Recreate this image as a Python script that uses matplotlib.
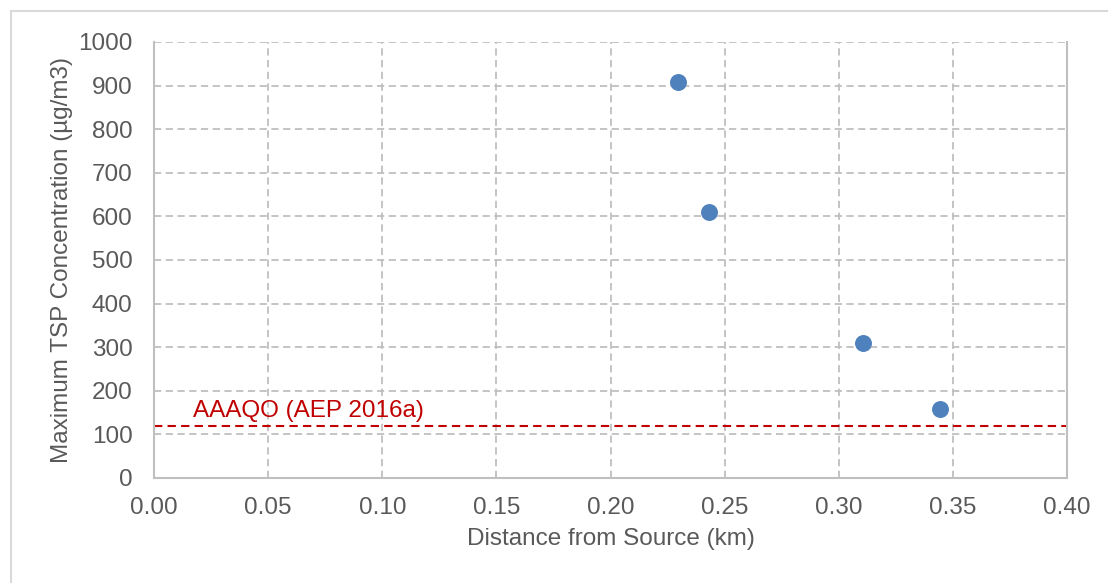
import matplotlib.pyplot as plt
from matplotlib.lines import Line2D

plt.rcParams.update({"font.family": ["Liberation Sans", "DejaVu Sans"], "font.size": 17.5})

distance_km = [0.2297, 0.2432, 0.3106, 0.3444]
max_tsp = [909, 609, 309, 159]
aaaqo_limit = 120
aaaqo_label = "AAAQO (AEP 2016a)"

TEXT = "#595959"
GRID = "#BFBFBF"

fig = plt.figure(figsize=(11.08, 5.83), dpi=100)
ax = fig.add_axes([154 / 1108, 1 - 478 / 583, (1067 - 154) / 1108, (478 - 42) / 583])

ax.set_xlim(0, 0.40)
ax.set_ylim(0, 1000)
ax.set_xticks([i * 0.05 for i in range(9)])
ax.set_yticks(range(0, 1001, 100))
ax.xaxis.set_major_formatter(plt.FormatStrFormatter("%.2f"))

ax.grid(True, color=GRID, linestyle=(0, (4, 2.5)), linewidth=1.3)
ax.set_axisbelow(True)
ax.tick_params(length=0, colors=TEXT, labelsize=17.5)
ax.tick_params(axis="y", pad=15.5)
ax.tick_params(axis="x", pad=14)
for side in ["left", "bottom", "right"]:
    ax.spines[side].set_color(GRID)
    ax.spines[side].set_linewidth(1.5)
ax.spines["top"].set_visible(False)

ax.axhline(aaaqo_limit, color="#C00000", linestyle=(0, (4, 2.5)), linewidth=1.5, zorder=2)
ax.text(0.017, 140, aaaqo_label, color="#C00000", fontsize=17.5, va="baseline")

ax.scatter(distance_km, max_tsp, s=125, color="#4F81BD", zorder=3, clip_on=False)

ax.set_xlabel("Distance from Source (km)", color=TEXT, fontsize=17.5, labelpad=6)
ax.set_ylabel("Maximum TSP Concentration (µg/m3)", color=TEXT, fontsize=17.5, labelpad=4)

# outer chart frame
fig.add_artist(Line2D([11 / 1108, 11 / 1108], [0, 1 - 11 / 583], color="#D9D9D9", linewidth=1.5))
fig.add_artist(Line2D([11 / 1108, 1], [1 - 11 / 583, 1 - 11 / 583], color="#D9D9D9", linewidth=1.5))

fig.savefig("out.png", dpi=100)
